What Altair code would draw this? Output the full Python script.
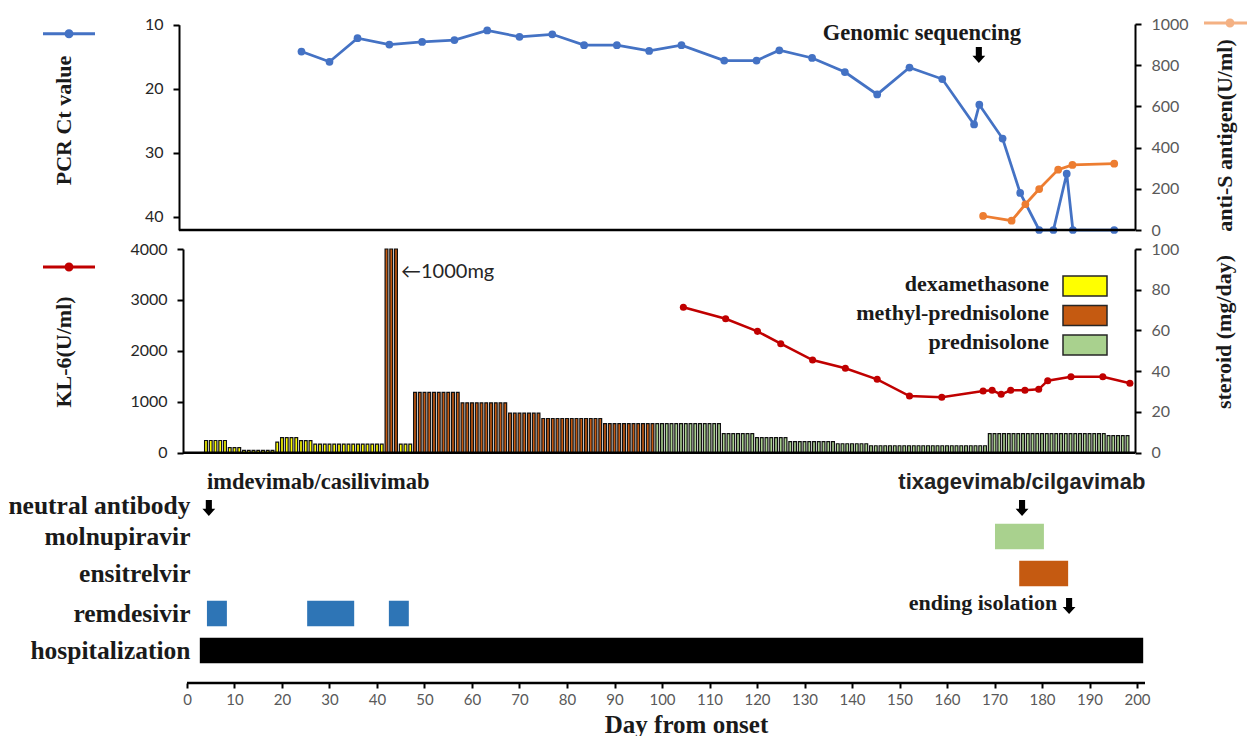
import json
import altair as alt
import pandas as pd

# ---------------- data ----------------
PCR_DAY = [24.1, 30.0, 35.9, 42.6, 49.5, 56.3, 63.2, 70.0, 76.9, 83.6, 90.5, 97.3,
           104.1, 113.1, 119.9, 124.7, 131.6, 138.5, 145.3, 152.1, 159.0, 165.7,
           166.8, 171.7, 175.4, 179.4, 182.4, 185.2, 186.5, 195.2]
PCR_CT = [14.2, 15.8, 12.1, 13.1, 12.7, 12.4, 10.9, 11.9, 11.5, 13.2, 13.2, 14.1,
          13.2, 15.6, 15.6, 14.0, 15.2, 17.4, 20.9, 16.7, 18.5, 25.6,
          22.5, 27.8, 36.3, 42.1, 42.1, 33.3, 42.1, 42.1]

ANTIS_DAY = [167.6, 173.6, 176.5, 179.4, 183.4, 186.4, 195.2]
ANTIS_VAL = [68, 45, 125, 199, 293, 316, 322]

KL6_DAY = [104.5, 113.4, 120.1, 125.0, 131.7, 138.6, 145.3, 152.1, 158.9, 167.6,
           169.5, 171.4, 173.4, 176.4, 179.3, 181.2, 186.1, 192.8, 198.5]
KL6_VAL = [2855, 2631, 2383, 2140, 1820, 1657, 1441, 1113, 1088, 1211,
           1225, 1147, 1225, 1225, 1245, 1414, 1492, 1492, 1363]

# steroid runs (daily doses, mg/day)
STER_START = [4, 9, 12, 19, 20, 24, 27, 42, 45, 48, 58, 68, 75, 88, 99, 113, 120, 127, 137, 144, 169, 194]
STER_END = [8, 11, 18, 19, 23, 26, 41, 44, 47, 57, 67, 74, 87, 98, 112, 119, 126, 136, 143, 168, 193, 198]
STER_DOSE = [6.0, 2.5, 1.1, 5.2, 7.4, 5.9, 4.2, 1000, 4.2, 29.6, 24.5, 19.4, 16.8, 14.3,
             14.3, 9.4, 7.4, 5.4, 4.4, 3.4, 9.4, 8.4]
STER_DRUG = (['dexamethasone'] * 7 + ['methyl-prednisolone'] + ['dexamethasone']
             + ['methyl-prednisolone'] * 5 + ['prednisolone'] * 8)
DRUGS = ['dexamethasone', 'methyl-prednisolone', 'prednisolone']
DRUG_COLORS = ['#FFFF00', '#C55A11', '#A9D18E']

# treatment rows (row positions, bottom row = 0)
ROW_NAMES = ['hospitalization', 'remdesivir', 'ensitrelvir', 'molnupiravir', 'neutral antibody']
ROW_POS = [0, 1, 2.08, 3.08, 3.93]
GANTT_ROW = [0, 1, 1, 1, 2.08, 3.08]
GANTT_START = [2.7, 4.2, 25.3, 42.5, 175.2, 170.1]
GANTT_END = [201.3, 8.4, 35.2, 46.7, 185.5, 180.4]
GANTT_FILL = ['#000000', '#2E75B6', '#2E75B6', '#2E75B6', '#C55A11', '#A9D18E']

# ---------------- layout ----------------
PAD_L, PAD_T, PAD_R, PAD_B = 181, 24, 102, 53
W, H = 964, 659
XDOM = [-1.26, 201.68]

SERIF = "Liberation Serif, Times New Roman, serif"
SANS = "Lato, Liberation Sans, DejaVu Sans, sans-serif"
ARIAL = "Liberation Sans, Arial, sans-serif"
DARK = '#1a1a1a'

SCALES = {
    'pcr': dict(domain=[10, 42.1], range=[0.7, 206], zero=False),
    'antis': dict(domain=[0, 1000], range=[206, 0], zero=True),
    'kl': dict(domain=[0, 4000], range=[428.7, 225], zero=True),
    'ster': dict(domain=[0, 100], range=[428.7, 225], zero=True, clamp=True),
    'gantt': dict(domain=[0, 4], range=[626.5, 478.5], zero=False),
}

XAXIS = alt.Axis(values=list(range(0, 201, 10)), domain=False, grid=False, ticks=True,
                 tickSize=5, tickWidth=2, tickColor='black', labelFont=SANS, labelFontSize=15,
                 labelColor='#595959', labelPadding=4, labelFlush=False, labelOverlap=False,
                 format='d',
                 title='Day from onset', titleFont=SERIF, titleFontSize=25, titleFontWeight='bold',
                 titleColor=DARK, titleX=505, titleY=41, titleBaseline='middle', titleAlign='center')


def X(field):
    return alt.X(f'{field}:Q', scale=alt.Scale(domain=XDOM, nice=False, zero=False, padding=0),
                 axis=XAXIS)


def Y(field, panel, axis=None):
    return alt.Y(f'{field}:Q', scale=alt.Scale(nice=False, padding=0, **SCALES[panel]), axis=axis)


def side_axis(orient, values, title, tx, ty, offset, label_color):
    return alt.Axis(orient=orient, values=values, offset=offset, grid=False, domain=True,
                    domainColor='black', domainWidth=2, ticks=True, tickColor='black', tickWidth=2,
                    tickSize=6, labelFont=SANS, labelFontSize=16, labelColor=label_color,
                    labelPadding=10, labelFlush=False, format='d', title=title, titleFont=SERIF,
                    titleFontSize=22, titleFontWeight='bold', titleColor=DARK, titleAngle=270,
                    titleAlign='center', titleBaseline='middle', titleX=tx, titleY=ty)


LINE_SYMBOL = "M-5.2,-0.3H5.2V0.3H-5.2Z M0.9,0A0.9,0.9 0 1,1 -0.9,0A0.9,0.9 0 1,1 0.9,0Z"


def line_legend(lx, ly, opacity=1.0):
    return alt.Legend(orient='none', legendX=lx, legendY=ly, title=None, labelExpr="''",
                      symbolType=LINE_SYMBOL, symbolSize=100, symbolStrokeWidth=0,
                      symbolOpacity=opacity, padding=0)


def drug_legend(lx, ly, row_pad, symbol_opacity, show_labels):
    extra = {} if show_labels else {'labelExpr': "''"}
    return alt.Legend(orient='none', legendX=lx, legendY=ly, title=None,
                      symbolType='M-2.2,-1H2.2V1H-2.2Z', symbolSize=400,
                      symbolStrokeColor='#262626', symbolStrokeWidth=1.5, symbolOffset=45,
                      symbolOpacity=symbol_opacity,
                      labelFont=SERIF, labelFontSize=22, labelFontWeight='bold',
                      labelColor=DARK, labelAlign='right', labelOffset=0,
                      rowPadding=row_pad, padding=0, labelLimit=400, **extra)


# ---------------- tables ----------------
pcr_df = pd.DataFrame({'day': PCR_DAY, 'val': PCR_CT, 'series': 'PCR Ct value'})
antis_df = pd.DataFrame({'day': ANTIS_DAY, 'val': ANTIS_VAL, 'series': 'anti-S antigen'})
kl_df = pd.DataFrame({'day': KL6_DAY, 'val': KL6_VAL, 'series': 'KL-6'})
ster_df = pd.DataFrame([
    {'day': d, 'dose': dose, 'drug': drug}
    for s, e, dose, drug in zip(STER_START, STER_END, STER_DOSE, STER_DRUG)
    for d in range(s, e + 1)
])
drug_df = pd.DataFrame({'drug': DRUGS})
gantt_df = pd.DataFrame({'row': GANTT_ROW, 'start': GANTT_START, 'end': GANTT_END, 'fill': GANTT_FILL})
gantt_df['y0'] = gantt_df['row'] - 0.345
gantt_df['y1'] = gantt_df['row'] + 0.345

# ---------------- layers ----------------
ster_bars = alt.Chart(ster_df).mark_bar(width=2.8, stroke='#111111', strokeWidth=1.2).encode(
    x=X('day'),
    y=Y('dose', 'ster', side_axis('right', list(range(0, 101, 20)), 'steroid (mg/day)', 88, 307.5, -10, '#595959')),
    color=alt.Color('drug:N', scale=alt.Scale(domain=DRUGS, range=DRUG_COLORS),
                    legend=drug_legend(848, 251, 3.5, 1, False)),
)
# legend labels (placed left of the legend swatches)
drug_labels = alt.Chart(drug_df).mark_point(opacity=0).encode(
    color=alt.Color('drug:N', scale=alt.Scale(domain=DRUGS, range=DRUG_COLORS),
                    legend=drug_legend(801, 248.5, 7, 0, True)),
)

kl_line = alt.Chart(kl_df).mark_line(color='#C00000', strokeWidth=2.5).encode(
    x=X('day'),
    y=Y('val', 'kl', side_axis('left', [0, 1000, 2000, 3000, 4000], 'KL-6(U/ml)', -120, 327.5, -2, '#262626')),
)
kl_pts = alt.Chart(kl_df).mark_point(filled=True, size=50, opacity=1).encode(
    x=X('day'), y=Y('val', 'kl'),
    color=alt.Color('series:N', scale=alt.Scale(domain=['KL-6'], range=['#C00000']),
                    legend=line_legend(-117, 238)),
)

pcr_line = alt.Chart(pcr_df).mark_line(color='#4472C4', strokeWidth=2.75).encode(
    x=X('day'),
    y=Y('val', 'pcr', side_axis('left', [10, 20, 30, 40], 'PCR Ct value', -116, 96, 2, '#262626')),
)
pcr_pts = alt.Chart(pcr_df).mark_point(filled=True, size=60, opacity=1).encode(
    x=X('day'), y=Y('val', 'pcr'),
    color=alt.Color('series:N', scale=alt.Scale(domain=['PCR Ct value'], range=['#4472C4']),
                    legend=line_legend(-117, 4.7)),
)

antis_line = alt.Chart(antis_df).mark_line(color='#ED7D31', strokeWidth=2.75).encode(
    x=X('day'),
    y=Y('val', 'antis', side_axis('right', list(range(0, 1001, 200)), 'anti-S antigen(U/ml)', 89, 111, -10, '#595959')),
)
antis_pts = alt.Chart(antis_df).mark_point(filled=True, size=60, opacity=1).encode(
    x=X('day'), y=Y('val', 'antis'),
    color=alt.Color('series:N', scale=alt.Scale(domain=['anti-S antigen'], range=['#ED7D31']),
                    legend=line_legend(1044, -6, 0.6)),
)

gantt_expr = json.dumps({str(p): n for p, n in zip(ROW_POS, ROW_NAMES)}) + "[datum.value]"
gantt_bars = alt.Chart(gantt_df).mark_bar().encode(
    x=X('start'), x2='end:Q',
    y=Y('y0', 'gantt', alt.Axis(orient='left', values=ROW_POS, labelExpr=gantt_expr,
                                domain=False, ticks=False, tickSize=0, grid=False, labelPadding=-9,
                                labelFont=SERIF, labelFontSize=25.5, labelFontWeight='bold',
                                labelColor=DARK, labelFlush=False, labelOverlap=False,
                                labelLimit=400, title=None)),
    y2='y1:Q',
    color=alt.Color('fill:N', scale=None),
)

# axis lines of the panels
def rule_layer(x0, x1, yv, panel):
    df = pd.DataFrame({'x0': [x0], 'x1': [x1], 'yv': [yv]})
    return alt.Chart(df).mark_rule(color='black', strokeWidth=2.5).encode(
        x=X('x0'), x2='x1:Q', y=Y('yv', panel))

rules = [rule_layer(-1.68, 199.6, 42.1, 'pcr'),
         rule_layer(-0.84, 199.6, 0, 'kl'),
         rule_layer(0, 201.68, -0.878, 'gantt')]

# annotations
def text_layer(days, vals, labels, panel, font, size, align, weight='bold', color=DARK):
    df = pd.DataFrame({'day': days, 'val': vals, 'label': labels})
    return alt.Chart(df).mark_text(font=font, fontSize=size, fontWeight=weight, align=align,
                                   baseline='middle', color=color).encode(
        x=X('day'), y=Y('val', panel), text='label:N')

texts = [
    text_layer([154.7], [956], ['Genomic sequencing'], 'antis', SERIF, 22.5, 'center'),
    text_layer([45.05], [88.7], ['\u21901000mg'], 'ster', SANS, 20, 'left', 'normal', '#262626'),
    text_layer([4.2], [4.55], ['imdevimab/casilivimab'], 'gantt', SERIF, 22.5, 'left'),
    text_layer([175.75], [4.55], ['tixagevimab/cilgavimab'], 'gantt', ARIAL, 22, 'center', 'bold', '#222222'),
    text_layer([183.2], [1.28], ['ending isolation'], 'gantt', SERIF, 22, 'right'),
]

ARROW = "M-0.38,-1L0.38,-1L0.38,0.1L0.8,0.1L0,1L-0.8,0.1L-0.38,0.1Z"

def arrow_layer(days, vals, panel):
    df = pd.DataFrame({'day': days, 'val': vals})
    return alt.Chart(df).mark_point(shape=ARROW, filled=True, size=256, color='black', opacity=1).encode(
        x=X('day'), y=Y('val', panel))

arrows = [arrow_layer([166.7], [849.5], 'antis'),
          arrow_layer([4.6, 175.8, 185.7], [3.85, 3.85, 1.2], 'gantt')]

chart = alt.layer(
    ster_bars, drug_labels, kl_line, kl_pts, pcr_line, pcr_pts, antis_line, antis_pts, gantt_bars,
    *rules, *texts, *arrows
).resolve_scale(
    y='independent', color='independent'
).resolve_axis(
    y='independent'
).resolve_legend(
    color='independent'
).properties(
    width=W, height=H,
    autosize=alt.AutoSizeParams(type='none'),
    padding={'left': PAD_L, 'top': PAD_T, 'right': PAD_R, 'bottom': PAD_B},
    background='white',
).configure_view(stroke=None)

chart.save("out.html", embed_options={"renderer": "svg", "actions": False})
